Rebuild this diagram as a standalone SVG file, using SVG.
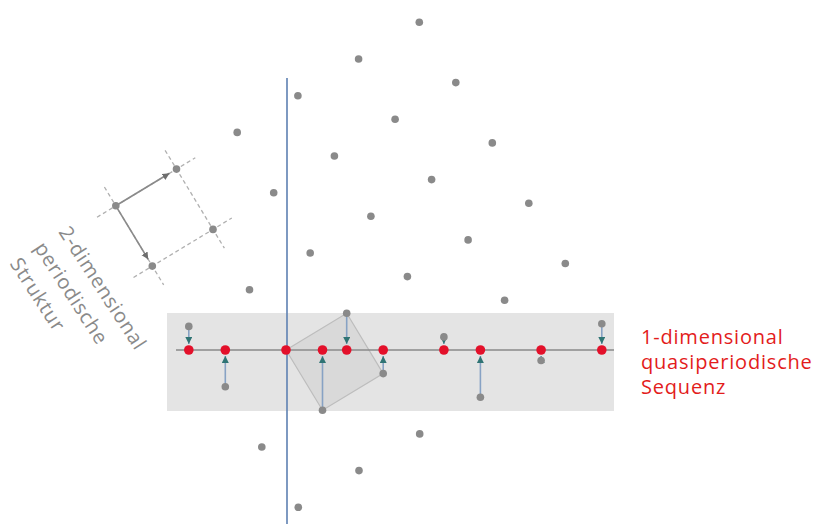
<svg xmlns="http://www.w3.org/2000/svg" width="817" height="527" viewBox="0 0 817 527">
<style>
.pt{fill:#8a8a8a}
.red{fill:#e3102a}
.proj{stroke:#87a2c4;stroke-width:1.6;fill:none;marker-end:url(#ah)}
.dash{stroke:#b0b0b0;stroke-width:1.3;stroke-dasharray:4 3;fill:none}
.vec{stroke:#8a8a8a;stroke-width:1.6;fill:none;marker-end:url(#ag)}
.lbl{font-family:"Open Sans","Liberation Sans",sans-serif;font-size:20px;letter-spacing:0.8px}
</style>
<defs>
<marker id="ah" markerUnits="userSpaceOnUse" markerWidth="8" markerHeight="8" refX="7" refY="3.5" orient="auto">
<path d="M0,0 L7,3.5 L0,7 z" fill="#2f7474"/>
</marker>
<marker id="ag" markerUnits="userSpaceOnUse" markerWidth="8" markerHeight="8" refX="7" refY="3.5" orient="auto">
<path d="M0,0 L7,3.5 L0,7 z" fill="#6e6e6e"/>
</marker>
</defs>
<rect width="817" height="527" fill="#ffffff"/>
<g id="band">
<rect x="167" y="313" width="447" height="98" fill="#e4e4e4"/>
</g>
<g id="unit-cell">
<polygon points="286,350 346.7,313.3 383.2,373.6 322.5,410.3" fill="#cfcfcf" fill-opacity="0.55" stroke="#bdbdbd" stroke-width="1.2"/>
</g>
<g id="axes">
<line x1="176" y1="350" x2="614" y2="350" stroke="#8a8a8a" stroke-width="1.6"/>
<line x1="287" y1="78" x2="287" y2="524" stroke="#5d80b2" stroke-width="1.6"/>
</g>
<g id="cell-sketch">
<line class="dash" x1="97" y1="217.2" x2="195.3" y2="157.7"/>
<line class="dash" x1="133.5" y1="277.5" x2="231.8" y2="218"/>
<line class="dash" x1="104.4" y1="187" x2="163.7" y2="284.9"/>
<line class="dash" x1="165.1" y1="150.3" x2="224.4" y2="248.2"/>
<line class="vec" x1="115.8" y1="205.8" x2="169.5" y2="173.3"/>
<line class="vec" x1="115.8" y1="205.8" x2="148.2" y2="259.3"/>
</g>
<g id="connectors">
<line class="proj" x1="188.8" y1="329" x2="188.8" y2="344"/>
<line class="proj" x1="225.3" y1="384" x2="225.3" y2="356"/>
<line class="proj" x1="322.5" y1="407" x2="322.5" y2="356"/>
<line class="proj" x1="346.7" y1="316" x2="346.7" y2="344"/>
<line class="proj" x1="383.2" y1="371" x2="383.2" y2="356"/>
<line class="proj" x1="443.9" y1="339" x2="443.9" y2="344"/>
<line class="proj" x1="480.4" y1="394" x2="480.4" y2="356"/>
<line class="proj" x1="541.1" y1="363" x2="541.1" y2="356"/>
<line class="proj" x1="601.8" y1="326" x2="601.8" y2="344"/>
</g>
<g id="lattice">
<circle class="pt" cx="115.8" cy="205.8" r="3.8"/>
<circle class="pt" cx="176.5" cy="169.1" r="3.8"/>
<circle class="pt" cx="237.2" cy="132.4" r="3.8"/>
<circle class="pt" cx="297.9" cy="95.7" r="3.8"/>
<circle class="pt" cx="358.6" cy="59" r="3.8"/>
<circle class="pt" cx="419.3" cy="22.3" r="3.8"/>
<circle class="pt" cx="152.3" cy="266.1" r="3.8"/>
<circle class="pt" cx="213" cy="229.4" r="3.8"/>
<circle class="pt" cx="273.7" cy="192.7" r="3.8"/>
<circle class="pt" cx="334.4" cy="156" r="3.8"/>
<circle class="pt" cx="395.1" cy="119.3" r="3.8"/>
<circle class="pt" cx="455.8" cy="82.6" r="3.8"/>
<circle class="pt" cx="188.8" cy="326.4" r="3.8"/>
<circle class="pt" cx="249.5" cy="289.7" r="3.8"/>
<circle class="pt" cx="310.2" cy="253" r="3.8"/>
<circle class="pt" cx="370.9" cy="216.3" r="3.8"/>
<circle class="pt" cx="431.6" cy="179.6" r="3.8"/>
<circle class="pt" cx="492.3" cy="142.9" r="3.8"/>
<circle class="pt" cx="225.3" cy="386.7" r="3.8"/>
<circle class="pt" cx="346.7" cy="313.3" r="3.8"/>
<circle class="pt" cx="407.4" cy="276.6" r="3.8"/>
<circle class="pt" cx="468.1" cy="239.9" r="3.8"/>
<circle class="pt" cx="528.8" cy="203.2" r="3.8"/>
<circle class="pt" cx="261.8" cy="447" r="3.8"/>
<circle class="pt" cx="322.5" cy="410.3" r="3.8"/>
<circle class="pt" cx="383.2" cy="373.6" r="3.8"/>
<circle class="pt" cx="443.9" cy="336.9" r="3.8"/>
<circle class="pt" cx="504.6" cy="300.2" r="3.8"/>
<circle class="pt" cx="565.3" cy="263.5" r="3.8"/>
<circle class="pt" cx="298.3" cy="507.3" r="3.8"/>
<circle class="pt" cx="359" cy="470.6" r="3.8"/>
<circle class="pt" cx="419.7" cy="433.9" r="3.8"/>
<circle class="pt" cx="480.4" cy="397.2" r="3.8"/>
<circle class="pt" cx="541.1" cy="360.5" r="3.8"/>
<circle class="pt" cx="601.8" cy="323.8" r="3.8"/>
</g>
<g id="sequence">
<circle class="red" cx="188.8" cy="350" r="4.8"/>
<circle class="red" cx="225.3" cy="350" r="4.8"/>
<circle class="red" cx="286" cy="350" r="4.8"/>
<circle class="red" cx="322.5" cy="350" r="4.8"/>
<circle class="red" cx="346.7" cy="350" r="4.8"/>
<circle class="red" cx="383.2" cy="350" r="4.8"/>
<circle class="red" cx="443.9" cy="350" r="4.8"/>
<circle class="red" cx="480.4" cy="350" r="4.8"/>
<circle class="red" cx="541.1" cy="350" r="4.8"/>
<circle class="red" cx="601.8" cy="350" r="4.8"/>
</g>
<g id="label-2d" transform="translate(58,232) rotate(57)">
<text class="lbl" fill="#8a8a8a" x="0" y="0">2-dimensional</text>
<text class="lbl" fill="#8a8a8a" x="0" y="29">periodische</text>
<text class="lbl" fill="#8a8a8a" x="0" y="58">Struktur</text>
</g>
<g id="label-1d">
<text class="lbl" fill="#e31c1c" x="641" y="344">1-dimensional</text>
<text class="lbl" fill="#e31c1c" x="641" y="369">quasiperiodische</text>
<text class="lbl" fill="#e31c1c" x="641" y="394">Sequenz</text>
</g>
</svg>
